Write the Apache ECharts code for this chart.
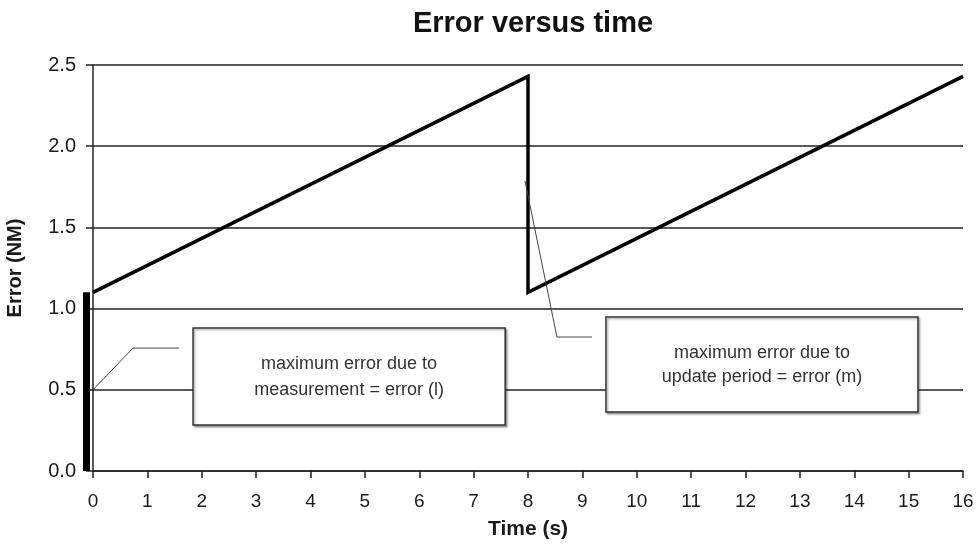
<!DOCTYPE html>
<html>
<head>
<meta charset="utf-8">
<title>Error versus time</title>
<script src="https://cdn.jsdelivr.net/npm/echarts@6/dist/echarts.min.js"></script>
<style>
  html, body { margin: 0; padding: 0; background: #fff; }
  #chart { width: 977px; height: 544px; }
</style>
</head>
<body>
<div id="chart"></div>
<script>
// Sawtooth error profile: [time (s), error (NM)]
var errorTime = [0, 8, 8, 16];
var errorValue = [1.1, 2.43, 1.1, 2.43];

// Measurement error bar drawn along the value axis at t = 0
var measurementBar = [[0, 0, 1.1]];

// Axis ticks
var xTicks = [0, 16, 1];
var yTicks = [0, 2.5, 0.5];

// Call-out boxes (data units): [x0, y0, x1, y1]
var boxMeasurement = [1.84, 0.88, 7.58, 0.283];
var boxUpdate = [9.434, 0.948, 15.172, 0.363];
var textMeasurement = 'maximum error due to\nmeasurement = error (l)';
var textUpdate = 'maximum error due to\nupdate period = error (m)';

// Leader lines (data units)
var leaderMeasurement = [[0, 0.5], [0.736, 0.757], [1.582, 0.757]];
var leaderUpdate = [[7.945, 1.786], [8.533, 0.825], [9.177, 0.825]];

var FONT = '"Liberation Sans", Arial, sans-serif';
var TEXT = '#1a1a1a';

var lineData = errorTime.map(function (t, i) { return [t, errorValue[i]]; });

var chart = echarts.init(document.getElementById('chart'), null, { renderer: 'canvas' });

var option = {
  animation: false,
  backgroundColor: '#fff',
  title: {
    text: 'Error versus time',
    left: 528,
    textAlign: 'center',
    top: 4,
    textStyle: { fontFamily: FONT, fontSize: 29, fontWeight: 'bold', color: '#111' }
  },
  grid: { left: 93, right: 14, top: 65, bottom: 73, containLabel: false, outerBoundsMode: 'none' },
  xAxis: {
    type: 'value',
    min: xTicks[0], max: xTicks[1], interval: xTicks[2],
    name: 'Time (s)',
    nameLocation: 'middle',
    nameGap: 48,
    nameTextStyle: { fontFamily: FONT, fontSize: 21, fontWeight: 'bold', color: TEXT },
    axisLine: { lineStyle: { color: '#222', width: 1.5 } },
    axisTick: { show: true, inside: false, length: 7, lineStyle: { color: '#222', width: 1.5 } },
    axisLabel: { margin: 21, fontFamily: FONT, fontSize: 19, color: TEXT },
    splitLine: { show: false }
  },
  yAxis: {
    type: 'value',
    min: yTicks[0], max: yTicks[1], interval: yTicks[2],
    name: 'Error (NM)',
    nameLocation: 'middle',
    nameRotate: 90,
    nameGap: 68,
    nameTextStyle: { fontFamily: FONT, fontSize: 20, fontWeight: 'bold', color: TEXT },
    axisLine: { show: true, lineStyle: { color: '#222', width: 1.5 } },
    axisTick: { show: true, inside: false, length: 7, lineStyle: { color: '#222', width: 1.5 } },
    axisLabel: {
      margin: 17, fontFamily: FONT, fontSize: 20, color: TEXT,
      formatter: function (v) { return v.toFixed(1); }
    },
    splitLine: { show: true, lineStyle: { color: '#222', width: 1.5 } }
  },
  series: [
    {
      type: 'line',
      data: lineData,
      showSymbol: false,
      symbol: 'none',
      lineStyle: { color: '#000', width: 3.5, join: 'miter' },
      z: 5
    },
    {
      type: 'custom',
      data: measurementBar,
      renderItem: function (params, api) {
        var bottom = api.coord([api.value(0), api.value(1)]);
        var top = api.coord([api.value(0), api.value(2)]);
        return {
          type: 'rect',
          shape: { x: bottom[0] - 10, y: top[1], width: 7, height: bottom[1] - top[1] },
          style: { fill: '#000' }
        };
      },
      z: 6
    }
  ]
};

chart.setOption(option);

// Call-outs positioned through the chart's own coordinate conversion
function px(p) { return chart.convertToPixel({ gridIndex: 0 }, p); }

function calloutBox(box, text, lineHeight) {
  var a = px([box[0], box[1]]);
  var b = px([box[2], box[3]]);
  return {
    type: 'group',
    children: [
      {
        type: 'rect',
        shape: { x: a[0], y: a[1], width: b[0] - a[0], height: b[1] - a[1] },
        style: {
          fill: '#fff', stroke: '#333', lineWidth: 1.5,
          shadowBlur: 2, shadowOffsetX: 1.5, shadowOffsetY: 1.5, shadowColor: 'rgba(0,0,0,0.35)'
        },
        z: 10
      },
      {
        type: 'text',
        x: (a[0] + b[0]) / 2,
        y: (a[1] + b[1]) / 2,
        style: {
          text: text,
          fill: '#333',
          font: '18px ' + FONT,
          align: 'center',
          verticalAlign: 'middle',
          lineHeight: lineHeight
        },
        z: 11
      }
    ]
  };
}

function leader(points) {
  return {
    type: 'polyline',
    shape: { points: points.map(px) },
    style: { stroke: '#444', lineWidth: 1, fill: null },
    z: 9
  };
}

chart.setOption({
  graphic: [
    leader(leaderMeasurement),
    leader(leaderUpdate),
    calloutBox(boxMeasurement, textMeasurement, 26),
    calloutBox(boxUpdate, textUpdate, 24)
  ]
});
</script>
</body>
</html>
